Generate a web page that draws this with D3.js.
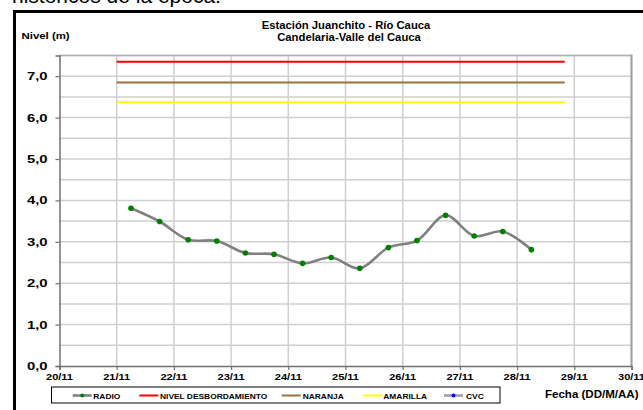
<!DOCTYPE html>
<html>
<head>
<meta charset="utf-8">
<script src="https://cdn.jsdelivr.net/npm/d3@7"></script>
<style>
  body { margin: 0; background: #fff; overflow: hidden; }
  svg { display: block; font-family: Arial, "Liberation Sans", sans-serif; }
</style>
</head>
<body>
<svg id="chart" width="643" height="410"></svg>
<script>
// readings (day of November, hour) and level in metres
var radioTimes = [[21,6],[21,18],[22,6],[22,18],[23,6],[23,18],[24,6],[24,18],
                  [25,6],[25,18],[26,6],[26,18],[27,6],[27,18],[28,6]];
var radioLevels = [3.81, 3.49, 3.05, 3.02, 2.73, 2.70, 2.48, 2.62,
                   2.36, 2.86, 3.03, 3.64, 3.14, 3.25, 2.81];
var thresholdNames = ["NIVEL DESBORDAMIENTO", "NARANJA", "AMARILLA"];
var thresholdLevels = [7.35, 6.85, 6.37];
var thresholdColors = ["#ff0000", "#a0703c", "#ffff00"];
var thresholdSpan = [[21,0],[28,20]];
var xTickDays = [20,21,22,23,24,25,26,27,28,29,30];
var yTickValues = [0,1,2,3,4,5,6,7];
var legendNames = ["RADIO", "NIVEL DESBORDAMIENTO", "NARANJA", "AMARILLA", "CVC"];

var toDate = function(d){ return new Date(2010, 10, d[0], d[1]); };

var marginLeft = 59.5, marginRight = 631.5, marginTop = 55.5, marginBottom = 366;

var svg = d3.select("#chart");

// stretched text helper (the original chart is widened horizontally)
function label(g, x, y, txt, size, sx, anchor) {
  return g.append("text")
    .attr("transform", "translate(" + x + "," + y + ") scale(" + sx + ",1)")
    .attr("font-size", size)
    .attr("font-weight", "bold")
    .attr("text-anchor", anchor || "start")
    .attr("fill", "#000")
    .text(txt);
}

// text cut off above the frame
svg.append("text")
  .attr("x", 12).attr("y", 3)
  .attr("font-size", 21)
  .attr("fill", "#000")
  .text("históricos de la época.");

// outer frame
svg.append("rect")
  .attr("x", 14.5).attr("y", 11.5)
  .attr("width", 700).attr("height", 450)
  .attr("fill", "none")
  .attr("stroke", "#000")
  .attr("stroke-width", 3);

var x = d3.scaleTime()
  .domain([new Date(2010, 10, 20), new Date(2010, 10, 30)])
  .range([marginLeft, marginRight]);
var y = d3.scaleLinear().domain([0, 7.5]).range([marginBottom, marginTop]);

// grid
var grid = svg.append("g");
grid.selectAll(".hg").data(d3.range(0.5, 7.51, 0.5)).join("line")
  .attr("x1", marginLeft).attr("x2", marginRight)
  .attr("y1", d => y(d)).attr("y2", d => y(d))
  .attr("stroke", "#cfcfcf").attr("stroke-width", 1.5);
grid.selectAll(".vg").data(xTickDays.slice(1)).join("line")
  .attr("x1", d => x(new Date(2010, 10, d))).attr("x2", d => x(new Date(2010, 10, d)))
  .attr("y1", marginTop).attr("y2", marginBottom)
  .attr("stroke", "#cfcfcf").attr("stroke-width", 1.5);
svg.append("line")
  .attr("x1", marginRight).attr("x2", marginRight)
  .attr("y1", marginTop - 1).attr("y2", marginBottom)
  .attr("stroke", "#a0a0a0").attr("stroke-width", 2);
svg.append("line")
  .attr("x1", marginLeft).attr("x2", marginRight)
  .attr("y1", marginTop).attr("y2", marginTop)
  .attr("stroke", "#b0b0b0").attr("stroke-width", 1.5);

// axes
var yAxis = d3.axisLeft(y).tickValues(yTickValues).tickSize(4).tickFormat(() => "");
svg.append("g")
  .attr("transform", "translate(" + marginLeft + ",0)")
  .call(yAxis)
  .call(g => g.select(".domain").attr("stroke", "#707070").attr("stroke-width", 1.5))
  .call(g => g.selectAll(".tick line").attr("stroke", "#707070").attr("stroke-width", 1.2));
var yLab = svg.append("g");
yTickValues.forEach(function(v) {
  label(yLab, 47.5, y(v) + 4, d3.format(".1f")(v).replace(".", ","), 11, 1.35, "end");
});

var xAxis = d3.axisBottom(x)
  .tickValues(xTickDays.map(d => new Date(2010, 10, d)))
  .tickSize(4).tickFormat(() => "");
svg.append("g")
  .attr("transform", "translate(0," + marginBottom + ")")
  .call(xAxis)
  .call(g => g.select(".domain").attr("stroke", "#707070").attr("stroke-width", 1.5))
  .call(g => g.selectAll(".tick line").attr("stroke", "#707070").attr("stroke-width", 1.2));
var xLab = svg.append("g");
xTickDays.forEach(function(d) {
  var dt = new Date(2010, 10, d);
  label(xLab, x(dt), 380, d3.timeFormat("%d/%m")(dt), 8.5, 1.3, "middle");
});

// thresholds
svg.append("g").selectAll("line").data(thresholdLevels).join("line")
  .attr("x1", x(toDate(thresholdSpan[0]))).attr("x2", x(toDate(thresholdSpan[1])))
  .attr("y1", d => y(d)).attr("y2", d => y(d))
  .attr("stroke", (d, i) => thresholdColors[i])
  .attr("stroke-width", 2);

// radio series
var pts = radioTimes.map((t, i) => [x(toDate(t)), y(radioLevels[i])]);
svg.append("path")
  .attr("d", d3.line().curve(d3.curveCatmullRom.alpha(0.5))(pts))
  .attr("fill", "none")
  .attr("stroke", "#808080")
  .attr("stroke-width", 2.6);
svg.append("g").selectAll("circle").data(pts).join("circle")
  .attr("cx", d => d[0]).attr("cy", d => d[1])
  .attr("r", 2.8).attr("fill", "#008000");

// titles
label(svg, 346, 29, "Estación Juanchito - Río Cauca", 10, 1.13, "middle");
label(svg, 349, 40.5, "Candelaria-Valle del Cauca", 10, 1.13, "middle");
label(svg, 21.5, 39, "Nivel (m)", 9.5, 1.2, "start");
label(svg, 545, 398, "Fecha (DD/M/AA)", 10.5, 1.1, "start");

// legend
var lg = svg.append("g");
lg.append("rect")
  .attr("x", 51.5).attr("y", 387).attr("width", 448.5).attr("height", 16)
  .attr("fill", "#fff").attr("stroke", "#000").attr("stroke-width", 1);
var legendSample = [72.7, 139.3, 281.7, 363.3, 444];
var legendText = [93.3, 160, 302.7, 383.3, 466];
var legendColors = ["#808080"].concat(thresholdColors).concat(["#a0a0a0"]);
var legendDots = ["#008000", null, null, null, "#0000ff"];
legendNames.forEach(function(n, i) {
  var sx = legendSample[i];
  lg.append("line")
    .attr("x1", sx).attr("x2", sx + 19)
    .attr("y1", 395.5).attr("y2", 395.5)
    .attr("stroke", legendColors[i])
    .attr("stroke-width", i === 0 || i === 4 ? 2.6 : 2);
  if (legendDots[i]) {
    lg.append("circle").attr("cx", sx + 9.5).attr("cy", 395.5).attr("r", 2)
      .attr("fill", legendDots[i]);
  }
  label(lg, legendText[i], 398.5, n, 7, 1.2, "start");
});
</script>
</body>
</html>
